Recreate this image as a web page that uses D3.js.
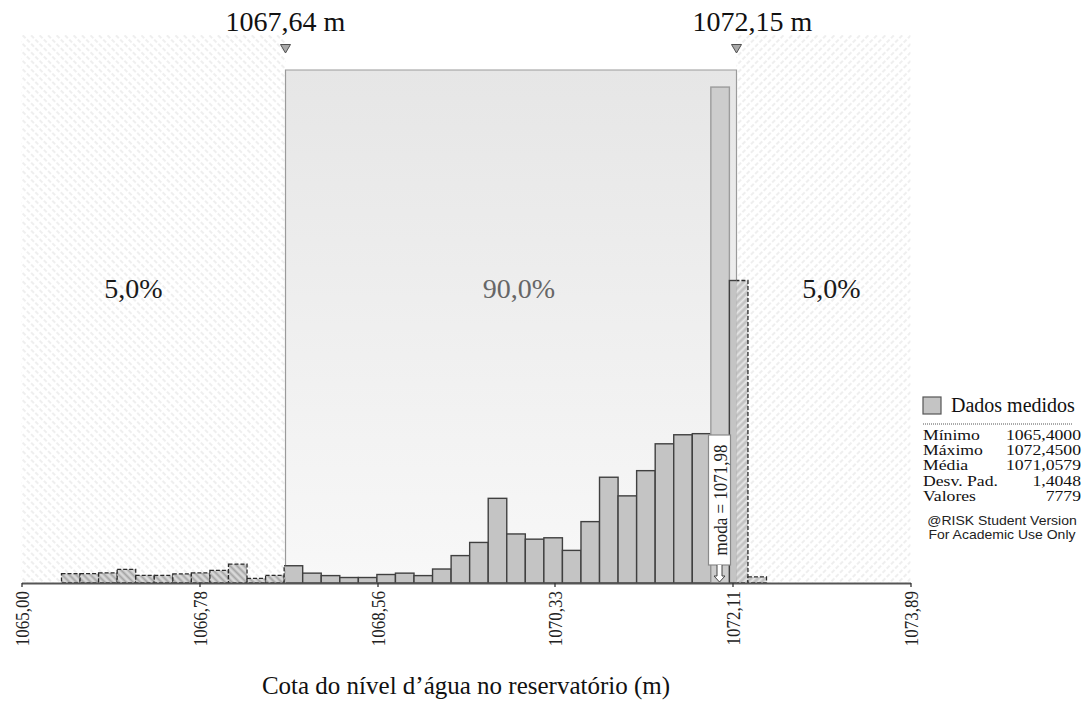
<!DOCTYPE html>
<html><head><meta charset="utf-8">
<script src="https://cdn.jsdelivr.net/npm/d3@7"></script>
<style>
body{margin:0;background:#fff;}
svg{display:block;}
text{font-family:"Liberation Serif","Times New Roman",serif;}
</style>
</head><body>
<svg id="chart" width="1085" height="702"></svg>
<script>
// ---------------- DATA ----------------
const histMin = 1065.40;
const histMax = 1072.45;
const binCounts = [34, 34, 37, 50, 28, 28, 33, 37, 46, 69, 17, 28,
                   63, 36, 27, 20, 20, 31, 36, 27, 51, 100, 148,
                   309, 179, 160, 165, 119,
                   224, 386, 318, 410, 508, 541, 545,
                   1810, 1104, 22];
const axisDomain = [1065.00, 1073.89];
const tickValues = [1065.00, 1066.78, 1068.56, 1070.33, 1072.11, 1073.89];
const tickLabels = ["1065,00", "1066,78", "1068,56", "1070,33", "1072,11", "1073,89"];
const delimiters = [1067.64, 1072.15];
const delimiterLabels = ["1067,64 m", "1072,15 m"];
const regionLabels = ["5,0%", "90,0%", "5,0%"];
const modeValue = 1071.98;
const modeLabel = "moda = 1071,98";
const seriesName = "Dados medidos";
const statNames = ["Mínimo", "Máximo", "Média", "Desv. Pad.", "Valores"];
const statValues = ["1065,4000", "1072,4500", "1071,0579", "1,4048", "7779"];
const watermark = ["@RISK Student Version", "For Academic Use Only"];
const xTitle = "Cota do nível d’água no reservatório (m)";
const yMax = 2000;

// ---------------- LAYOUT ----------------
const svg = d3.select("#chart");
const plot = {left: 21.5, right: 910.5, top: 35, bottom: 583};
const x = d3.scaleLinear().domain(axisDomain).range([plot.left, plot.right]);
const y = d3.scaleLinear().domain([0, yMax]).range([plot.bottom, plot.top]);

const nb = binCounts.length;
const bw = (histMax - histMin) / nb;
const bins = binCounts.map((c, i) => ({x0: histMin + i * bw, x1: histMin + (i + 1) * bw, c}));
const maxCount = d3.max(binCounts);

const xd0 = x(delimiters[0]), xd1 = x(delimiters[1]);
const midTop = 70;

const defs = svg.append("defs");
function linePattern(id, angle, spacing, bg, stroke, sw, dash) {
  const p = defs.append("pattern").attr("id", id).attr("patternUnits", "userSpaceOnUse")
    .attr("width", spacing).attr("height", spacing)
    .attr("patternTransform", `rotate(${angle})`);
  if (bg) p.append("rect").attr("width", spacing).attr("height", spacing).attr("fill", bg);
  const l = p.append("line").attr("x1", spacing / 2).attr("x2", spacing / 2).attr("y1", 0).attr("y2", spacing)
    .attr("stroke", stroke).attr("stroke-width", sw);
  if (dash) l.attr("stroke-dasharray", dash);
}
linePattern("bgL", -45, 6, "#ffffff", "#d6d6d6", 0.8, "3,2");
linePattern("bgR", 45, 6, "#ffffff", "#d6d6d6", 0.8, "3,2");
linePattern("barL", -45, 5, "#d8d8d8", "#a6a6a6", 2);
linePattern("barR", 45, 5, "#c2c2c2", "#e6e6e6", 2);

const grad = defs.append("linearGradient").attr("id", "midGrad")
  .attr("x1", 0).attr("y1", 0).attr("x2", 0).attr("y2", 1);
grad.append("stop").attr("offset", "0%").attr("stop-color", "#e6e6e6");
grad.append("stop").attr("offset", "100%").attr("stop-color", "#f8f8f8");

function clip(id, x0, x1) {
  defs.append("clipPath").attr("id", id).append("rect")
    .attr("x", x0).attr("y", 0).attr("width", x1 - x0).attr("height", plot.bottom + 1);
}
clip("clipL", plot.left, xd0);
clip("clipM", xd0, xd1);
clip("clipR", xd1, plot.right + 1);

// background regions
svg.append("rect").attr("x", plot.left).attr("y", plot.top).attr("width", xd0 - plot.left)
  .attr("height", plot.bottom - plot.top).attr("fill", "url(#bgL)");
svg.append("rect").attr("x", xd1).attr("y", plot.top).attr("width", plot.right - xd1)
  .attr("height", plot.bottom - plot.top).attr("fill", "url(#bgR)");
svg.append("rect").attr("x", xd0).attr("y", midTop).attr("width", xd1 - xd0)
  .attr("height", plot.bottom - midTop).attr("fill", "url(#midGrad)");
svg.append("path").attr("d", `M${xd0},${plot.bottom}V${midTop}H${xd1}V${plot.bottom}`)
  .attr("fill", "none").attr("stroke", "#9a9a9a").attr("stroke-width", 1.2);

// solid bars (middle)
svg.append("g").attr("clip-path", "url(#clipM)")
  .selectAll("rect").data(bins).join("rect")
  .attr("x", d => x(d.x0)).attr("width", d => x(d.x1) - x(d.x0))
  .attr("y", d => y(d.c)).attr("height", d => y(0) - y(d.c))
  .attr("fill", d => d.c === maxCount ? "#cdcdcd" : "#c4c4c4")
  .attr("stroke", d => d.c === maxCount ? "#9c9c9c" : "#404040")
  .attr("stroke-width", 1.4);

// hatched bars (tails)
[["clipL", "barL"], ["clipR", "barR"]].forEach(([cl, pat]) => {
  svg.append("g").attr("clip-path", `url(#${cl})`)
    .selectAll("rect").data(bins).join("rect")
    .attr("x", d => x(d.x0)).attr("width", d => x(d.x1) - x(d.x0))
    .attr("y", d => y(d.c)).attr("height", d => y(0) - y(d.c))
    .attr("fill", `url(#${pat})`)
    .attr("stroke", "#2a2a2a").attr("stroke-width", 1.3).attr("stroke-dasharray", "4,2");
});

// axis
const axis = d3.axisBottom(x).tickValues(tickValues).tickFormat((d, i) => tickLabels[i])
  .tickSize(4).tickSizeOuter(0);
const ag = svg.append("g").attr("transform", `translate(0,${plot.bottom})`).call(axis);
ag.select(".domain").attr("stroke", "#555").attr("stroke-width", 2);
ag.selectAll(".tick line").attr("stroke", "#333").attr("stroke-width", 1.3);
ag.selectAll(".tick text")
  .attr("transform", "rotate(-90) scale(1,1.15)")
  .attr("x", -8).attr("y", 0).attr("dy", "0.35em")
  .attr("text-anchor", "end")
  .style("font-family", "'Liberation Serif', serif")
  .style("font-size", "17px").attr("fill", "#222");

// delimiter markers
const dlx = [0, 16];
delimiters.forEach((v, i) => {
  const cx = x(v);
  svg.append("path").attr("d", `M${cx - 5},${44.5}L${cx + 5},${44.5}L${cx},${53}Z`)
    .attr("fill", "#a8a8a8").attr("stroke", "#505050").attr("stroke-width", 1);
  svg.append("text").attr("x", cx + dlx[i]).attr("y", 31).attr("text-anchor", "middle")
    .style("font-size", "28px").attr("fill", "#111").text(delimiterLabels[i]);
});

// region labels
const regionCenters = [(plot.left + xd0) / 2 - 20, (xd0 + xd1) / 2 + 8, (xd1 + plot.right) / 2 + 8];
const regionColors = ["#1a1a1a", "#666666", "#1a1a1a"];
regionLabels.forEach((t, i) => {
  svg.append("text").attr("x", regionCenters[i]).attr("y", 298).attr("text-anchor", "middle")
    .style("font-size", "28px").attr("fill", regionColors[i]).text(t);
});

// mode annotation
const mx = x(modeValue);
const boxTop = 435, boxBot = 565, boxW = 22;
svg.append("rect").attr("x", mx - boxW / 2).attr("y", boxTop).attr("width", boxW).attr("height", boxBot - boxTop)
  .attr("fill", "#ffffff").attr("stroke", "#8a8a8a").attr("stroke-width", 1.2);
svg.append("text").attr("transform", `translate(${mx + 1},${(boxTop + boxBot) / 2}) rotate(-90) scale(1,1.15)`)
  .attr("text-anchor", "middle").attr("dy", "0.35em")
  .style("font-size", "17px").attr("fill", "#222").text(modeLabel);
svg.append("path")
  .attr("d", `M${mx - 2.5},${boxBot}V${plot.bottom - 7}H${mx - 5.5}L${mx},${plot.bottom - 1}L${mx + 5.5},${plot.bottom - 7}H${mx + 2.5}V${boxBot}`)
  .attr("fill", "#fff").attr("stroke", "#444").attr("stroke-width", 1);

// legend
const lg = svg.append("g");
lg.append("rect").attr("x", 923).attr("y", 397).attr("width", 18).attr("height", 17)
  .attr("fill", "#c4c4c4").attr("stroke", "#555").attr("stroke-width", 1.2);
lg.append("text").attr("x", 951).attr("y", 412).style("font-size", "20px").attr("fill", "#111").text(seriesName);
lg.append("line").attr("x1", 923).attr("x2", 1072).attr("y1", 424).attr("y2", 424)
  .attr("stroke", "#555").attr("stroke-width", 1).attr("stroke-dasharray", "1,1");
statNames.forEach((n, i) => {
  const yy = 440 + i * 15.2;
  lg.append("text").attr("transform", `translate(923,${yy}) scale(1.3,1)`)
    .style("font-size", "13.6px").attr("fill", "#111").text(n);
  lg.append("text").attr("transform", `translate(1081,${yy}) scale(1.3,1)`).attr("text-anchor", "end")
    .style("font-size", "13.6px").attr("fill", "#111").text(statValues[i]);
});
watermark.forEach((t, i) => {
  lg.append("text").attr("transform", `translate(1002,${525 + i * 14}) scale(1.12,1)`).attr("text-anchor", "middle")
    .style("font-family", "'Liberation Sans', Arial, sans-serif").style("font-size", "12.5px")
    .attr("fill", "#222").text(t);
});

// x title
svg.append("text").attr("x", 466).attr("y", 694).attr("text-anchor", "middle")
  .style("font-size", "25px").attr("fill", "#111").text(xTitle);
</script>
</body></html>
